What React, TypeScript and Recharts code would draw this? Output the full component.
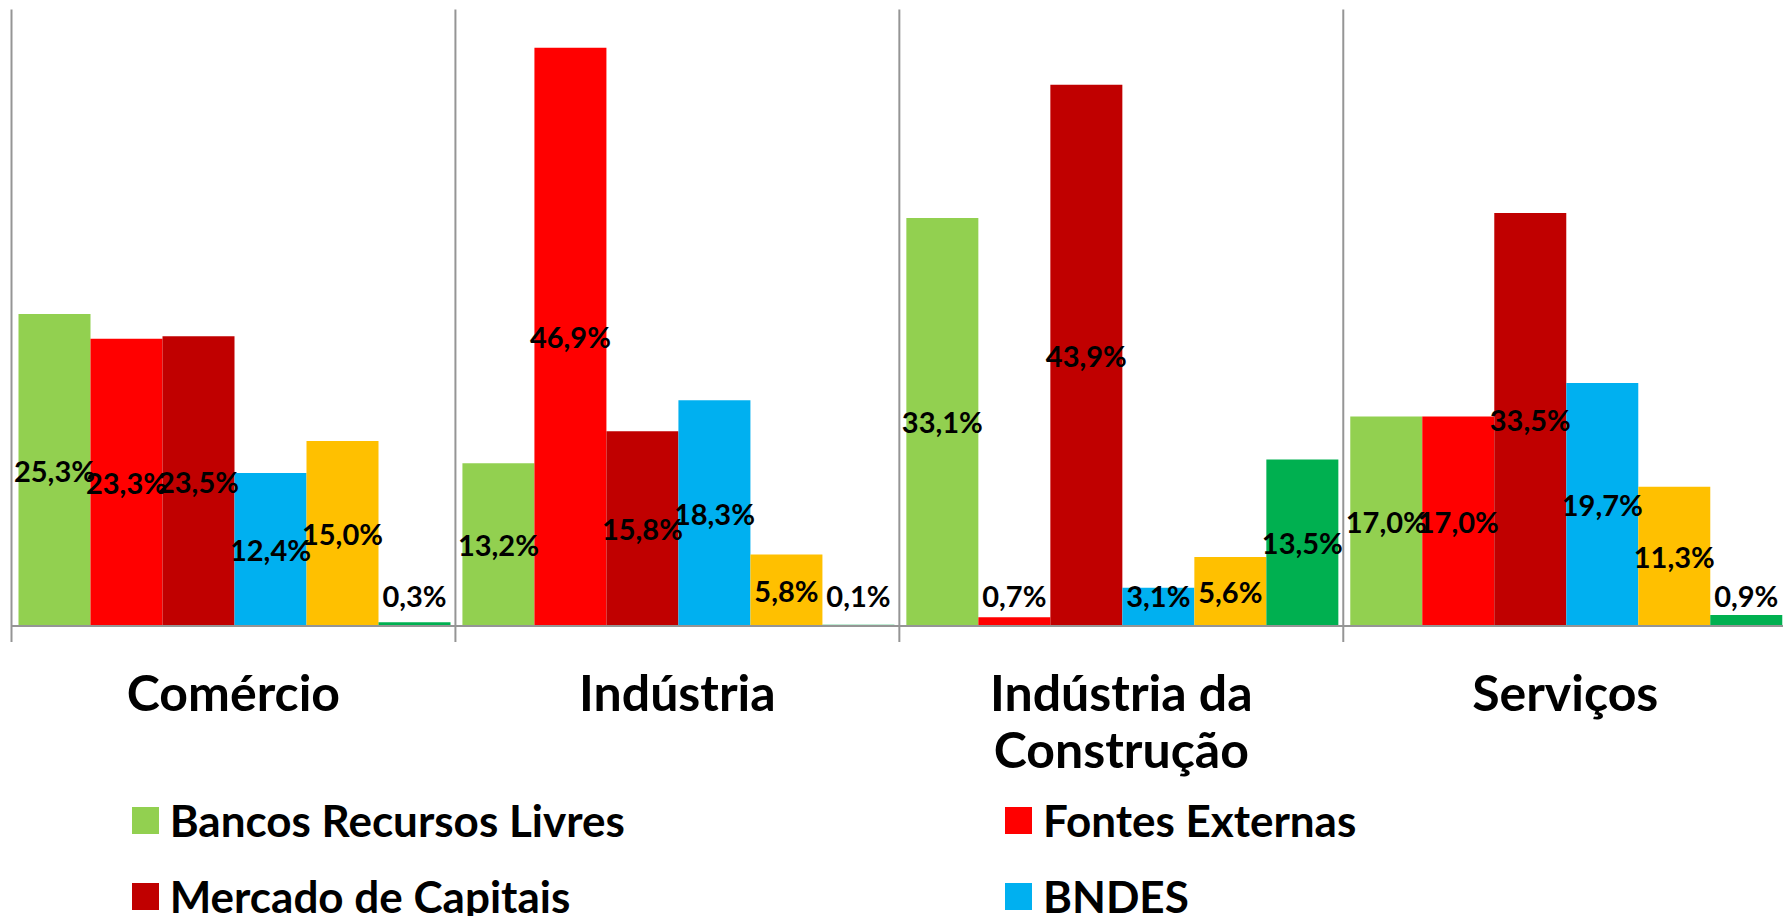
import React from 'react';
import { BarChart, Bar, XAxis, YAxis, LabelList } from 'recharts';

// Fontes de financiamento por setor (%)
const categories = ['Comércio', 'Indústria', 'Indústria da Construção', 'Serviços'];
const bancosRecursosLivres = [25.3, 13.2, 33.1, 17.0];
const fontesExternas = [23.3, 46.9, 0.7, 17.0];
const mercadoDeCapitais = [23.5, 15.8, 43.9, 33.5];
const bndes = [12.4, 18.3, 3.1, 19.7];
const serie5 = [15.0, 5.8, 5.6, 11.3];
const serie6 = [0.3, 0.1, 13.5, 0.9];

const series = [
    { key: 'livres', name: 'Bancos Recursos Livres', color: '#92D050', values: bancosRecursosLivres, legend: true },
    { key: 'externas', name: 'Fontes Externas', color: '#FF0000', values: fontesExternas, legend: true },
    { key: 'mercado', name: 'Mercado de Capitais', color: '#C00000', values: mercadoDeCapitais, legend: true },
    { key: 'bndes', name: 'BNDES', color: '#00B0F0', values: bndes, legend: true },
    { key: 's5', name: 'Série 5', color: '#FFC000', values: serie5, legend: false },
    { key: 's6', name: 'Série 6', color: '#00B050', values: serie6, legend: false },
];

const data = categories.map((name, i) => {
    const row: Record<string, string | number> = { name };
    series.forEach((s) => {
        row[s.key] = s.values[i];
    });
    return row;
});

const FONT = 'Lato, "Open Sans", sans-serif';
const CHART_W = 1800;
const CHART_H = 916;
const PLOT_LEFT = 11.5;
const PLOT_RIGHT = 1787.2;
const PLOT_TOP = 9.5;
const BASE_Y = 626;
const BAND = (PLOT_RIGHT - PLOT_LEFT) / categories.length;
const AXIS_GRAY = '#959595';

const fmt = (v: number) => v.toFixed(1).replace('.', ',') + '%';

const CategoryTick = (props: any) => {
    const { x, payload } = props;
    const words: string[] = String(payload.value).split(' ');
    const lines = words.length > 2 ? [words.slice(0, 2).join(' '), words.slice(2).join(' ')] : [payload.value];
    const left = x - BAND / 2;
    return (
        <g>
            <line x1={left} x2={left} y1={PLOT_TOP} y2={BASE_Y + 16} stroke={AXIS_GRAY} strokeWidth={2} />
            <text x={x} y={711} textAnchor="middle" fontFamily={FONT} fontWeight="bold" fontSize={50} fill="#000">
                {lines.map((l: string, i: number) => (
                    <tspan key={i} x={x} dy={i === 0 ? 0 : 57}>{l}</tspan>
                ))}
            </text>
        </g>
    );
};

const ValueLabel = (props: any) => {
    const { x, y, width, height, value } = props;
    const cy = Math.min(y + height / 2, BASE_Y - 31);
    return (
        <text
            x={x + width / 2}
            y={cy}
            textAnchor="middle"
            dominantBaseline="central"
            fontFamily={FONT}
            fontWeight="bold"
            fontSize={29}
            fill="#000"
        >
            {fmt(Number(value))}
        </text>
    );
};

const legendPos = [
    { left: 131.7, top: 806.5 },
    { left: 1005, top: 806.5 },
    { left: 131.7, top: 882.5 },
    { left: 1005, top: 882.5 },
];

const App: React.FC = () => {
    return (
        <div style={{ position: 'absolute', left: 0, top: 0, width: 1783, height: 916, overflow: 'hidden', background: '#fff' }}>
            <BarChart
                width={CHART_W}
                height={CHART_H}
                data={data}
                margin={{ top: PLOT_TOP, right: CHART_W - PLOT_RIGHT, left: PLOT_LEFT, bottom: 0 }}
                barCategoryGap={7}
                barGap={0}
            >
                <XAxis
                    dataKey="name"
                    height={CHART_H - BASE_Y}
                    tickLine={false}
                    axisLine={{ stroke: AXIS_GRAY, strokeWidth: 2 }}
                    tick={<CategoryTick />}
                    interval={0}
                />
                <YAxis hide domain={[0, 50]} />
                {series.map((s) => (
                    <Bar key={s.key} dataKey={s.key} name={s.name} fill={s.color} isAnimationActive={false}>
                        <LabelList dataKey={s.key} content={<ValueLabel />} />
                    </Bar>
                ))}
            </BarChart>
            {series.filter((s) => s.legend).map((s, i) => (
                <div
                    key={s.key}
                    style={{
                        position: 'absolute',
                        left: legendPos[i].left,
                        top: legendPos[i].top,
                        height: 27,
                        display: 'flex',
                        alignItems: 'center',
                        whiteSpace: 'nowrap',
                    }}
                >
                    <div style={{ width: 27, height: 27, background: s.color, marginRight: 11 }} />
                    <span style={{ fontFamily: FONT, fontWeight: 'bold', fontSize: 44, color: '#000' }}>{s.name}</span>
                </div>
            ))}
        </div>
    );
};

export default App;
